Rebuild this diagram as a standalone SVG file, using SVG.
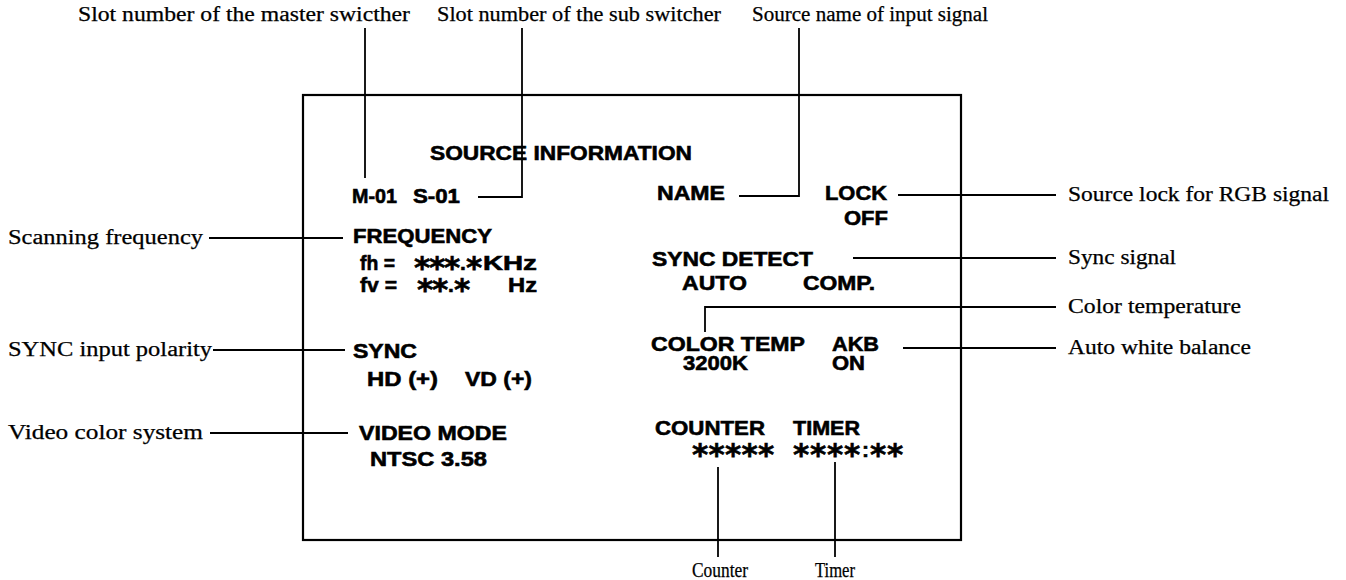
<svg xmlns="http://www.w3.org/2000/svg" width="1346" height="580" viewBox="0 0 1346 580">
<style>
.lbl{font-family:"Liberation Serif","Times New Roman",serif;font-size:20px;fill:#000;stroke:#000;stroke-width:0.25}
.b{font-family:"Liberation Sans",Arial,sans-serif;font-weight:bold;font-size:21px;fill:#000;stroke:#000;stroke-width:0.6}
.ast{font-family:"DejaVu Sans",sans-serif;font-size:31px;baseline-shift:-8px}
.ln{stroke:#000;stroke-width:1.8;fill:none}
.box{stroke:#000;stroke-width:2.2;fill:none}
</style>
<rect width="1346" height="580" fill="#fff"/>
<g id="screen">
<rect class="box" x="303" y="95" width="658" height="445"/>
<text class="b" x="430" y="160" textLength="262" lengthAdjust="spacingAndGlyphs">SOURCE INFORMATION</text>
</g>
<g id="slot-ids">
<text class="b" x="352" y="203" font-size="18" textLength="45" lengthAdjust="spacingAndGlyphs">M-01</text>
<text class="b" x="413" y="203" font-size="18" textLength="47" lengthAdjust="spacingAndGlyphs">S-01</text>
</g>
<g id="name"><text class="b" x="657" y="200" textLength="68" lengthAdjust="spacingAndGlyphs">NAME</text></g>
<g id="lock">
<text class="b" x="825" y="200" textLength="62" lengthAdjust="spacingAndGlyphs">LOCK</text>
<text class="b" x="844" y="225" textLength="44" lengthAdjust="spacingAndGlyphs">OFF</text>
</g>
<g id="frequency">
<text class="b" x="353" y="243" textLength="139" lengthAdjust="spacingAndGlyphs">FREQUENCY</text>
<text class="b" x="360" y="270" textLength="35" lengthAdjust="spacingAndGlyphs">fh =</text>
<text class="b" y="270"><tspan class="ast" x="414 429 444">***</tspan><tspan x="460">.</tspan><tspan class="ast" x="466">*</tspan></text>
<text class="b" x="483" y="270" textLength="54" lengthAdjust="spacingAndGlyphs">KHz</text>
<text class="b" x="360" y="292" textLength="37" lengthAdjust="spacingAndGlyphs">fv =</text>
<text class="b" y="292"><tspan class="ast" x="417 432">**</tspan><tspan x="448">.</tspan><tspan class="ast" x="454">*</tspan></text>
<text class="b" x="508" y="292" textLength="29" lengthAdjust="spacingAndGlyphs">Hz</text>
</g>
<g id="sync">
<text class="b" x="353" y="358" textLength="64" lengthAdjust="spacingAndGlyphs">SYNC</text>
<text class="b" x="367" y="386" textLength="71" lengthAdjust="spacingAndGlyphs">HD (+)</text>
<text class="b" x="465" y="386" textLength="67" lengthAdjust="spacingAndGlyphs">VD (+)</text>
</g>
<g id="video-mode">
<text class="b" x="359" y="440" textLength="148" lengthAdjust="spacingAndGlyphs">VIDEO MODE</text>
<text class="b" x="370" y="466" textLength="117" lengthAdjust="spacingAndGlyphs">NTSC 3.58</text>
</g>
<g id="sync-detect">
<text class="b" x="652" y="266" textLength="161" lengthAdjust="spacingAndGlyphs">SYNC DETECT</text>
<text class="b" x="682" y="290" textLength="65" lengthAdjust="spacingAndGlyphs">AUTO</text>
<text class="b" x="803" y="290" textLength="72" lengthAdjust="spacingAndGlyphs">COMP.</text>
</g>
<g id="color-temp">
<text class="b" x="651" y="351" textLength="154" lengthAdjust="spacingAndGlyphs">COLOR TEMP</text>
<text class="b" x="683" y="370" textLength="65" lengthAdjust="spacingAndGlyphs">3200K</text>
</g>
<g id="akb">
<text class="b" x="832" y="351" textLength="47" lengthAdjust="spacingAndGlyphs">AKB</text>
<text class="b" x="832" y="370" textLength="33" lengthAdjust="spacingAndGlyphs">ON</text>
</g>
<g id="counter-timer">
<text class="b" x="655" y="435" textLength="110" lengthAdjust="spacingAndGlyphs">COUNTER</text>
<text class="b" x="793" y="435" textLength="67" lengthAdjust="spacingAndGlyphs">TIMER</text>
<text class="b" y="457"><tspan class="ast" x="692 708.5 725 741.5 758">*****</tspan></text>
<text class="b" y="457"><tspan class="ast" x="793 810 827 844">****</tspan><tspan x="862">:</tspan><tspan class="ast" x="870 887">**</tspan></text>
</g>
<g id="labels">
<text class="lbl" x="78" y="21" textLength="332" lengthAdjust="spacingAndGlyphs">Slot number of the master swicther</text>
<text class="lbl" x="437" y="21" textLength="284" lengthAdjust="spacingAndGlyphs">Slot number of the sub switcher</text>
<text class="lbl" x="752" y="21" textLength="236" lengthAdjust="spacingAndGlyphs">Source name of input signal</text>
<text class="lbl" x="1068" y="201" textLength="261" lengthAdjust="spacingAndGlyphs">Source lock for RGB signal</text>
<text class="lbl" x="1068" y="264" textLength="108" lengthAdjust="spacingAndGlyphs">Sync signal</text>
<text class="lbl" x="1068" y="313" textLength="173" lengthAdjust="spacingAndGlyphs">Color temperature</text>
<text class="lbl" x="1068" y="354" textLength="183" lengthAdjust="spacingAndGlyphs">Auto white balance</text>
<text class="lbl" x="8" y="244" textLength="195" lengthAdjust="spacingAndGlyphs">Scanning frequency</text>
<text class="lbl" x="8" y="356" textLength="204" lengthAdjust="spacingAndGlyphs">SYNC input polarity</text>
<text class="lbl" x="8" y="439" textLength="195" lengthAdjust="spacingAndGlyphs">Video color system</text>
<text class="lbl" x="692" y="577" textLength="56" lengthAdjust="spacingAndGlyphs">Counter</text>
<text class="lbl" x="815" y="577" textLength="40" lengthAdjust="spacingAndGlyphs">Timer</text>
</g>
<g id="connectors">
<path class="ln" d="M365 28V178"/>
<path class="ln" d="M522 28V197H478"/>
<path class="ln" d="M799 28V196H739"/>
<path class="ln" d="M898 195H1056"/>
<path class="ln" d="M209 238H343"/>
<path class="ln" d="M213 350H345"/>
<path class="ln" d="M210 433H348"/>
<path class="ln" d="M853 258H1056"/>
<path class="ln" d="M705 332V307H1056"/>
<path class="ln" d="M903 348H1056"/>
<path class="ln" d="M718 467V557"/>
<path class="ln" d="M835 462V557"/>
</g>
</svg>
